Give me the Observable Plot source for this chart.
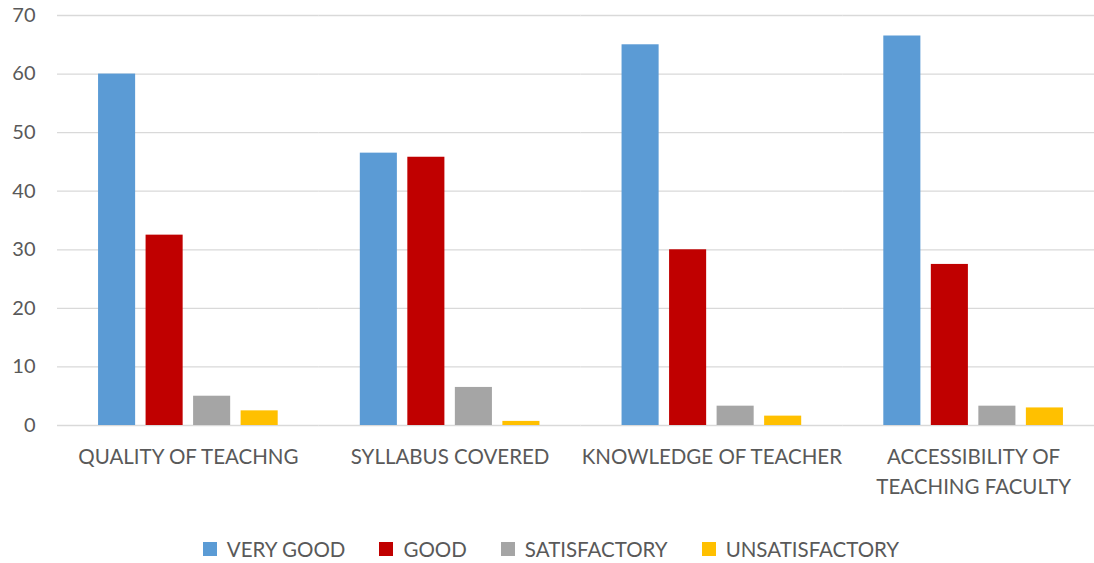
<!DOCTYPE html>
<html>
<head>
<meta charset="utf-8">
<script src="https://cdn.jsdelivr.net/npm/d3@7"></script>
<script src="https://cdn.jsdelivr.net/npm/@observablehq/plot@0.6"></script>
<style>
  html, body { margin: 0; padding: 0; background: #fff; }
  body { width: 1094px; height: 563px; overflow: hidden; font-family: Lato, "Open Sans", sans-serif; }
  #chart svg { display: block; }
  #legend { display: flex; justify-content: center; align-items: center; gap: 34px; height: 43px; margin-top: 13px; font-size: 20.5px; color: #595959; padding-left: 8px; }
  #legend .item { display: flex; align-items: center; gap: 10px; }
  #legend .sw { width: 14px; height: 14px; display: inline-block; }
</style>
</head>
<body>
<div id="chart"></div>
<div id="legend"></div>
<script>
const categories = ["QUALITY OF TEACHNG", "SYLLABUS COVERED", "KNOWLEDGE OF TEACHER", "ACCESSIBILITY OF TEACHING FACULTY"];
const categoryLabels = ["QUALITY OF TEACHNG", "SYLLABUS COVERED", "KNOWLEDGE OF TEACHER", "ACCESSIBILITY OF\nTEACHING FACULTY"];
const seriesNames = ["VERY GOOD", "GOOD", "SATISFACTORY", "UNSATISFACTORY"];
const seriesColors = ["#5B9BD5", "#C00000", "#A5A5A5", "#FFC000"];
const veryGood = [60, 46.5, 65, 66.5];
const good = [32.5, 45.8, 30, 27.5];
const satisfactory = [5, 6.5, 3.3, 3.3];
const unsatisfactory = [2.5, 0.7, 1.6, 3];
const yTicks = [0, 10, 20, 30, 40, 50, 60, 70];

const seriesValues = [veryGood, good, satisfactory, unsatisfactory];
const data = [];
categories.forEach((c, i) => {
  seriesNames.forEach((s, j) => data.push({category: c, series: s, value: seriesValues[j][i]}));
});

const chart = Plot.plot({
  width: 1094,
  height: 514,
  marginLeft: 57,
  marginRight: -10,
  marginTop: 15,
  marginBottom: 89,
  style: {fontFamily: "Lato, 'Open Sans', sans-serif", color: "#595959", background: "#fff", overflow: "hidden"},
  fx: {domain: categories, paddingInner: 0, paddingOuter: 0, round: false, label: null},
  x: {domain: seriesNames, padding: 0.22, round: false, insetLeft: 30.6, insetRight: 30.6, axis: null},
  y: {domain: [0, 70], label: null},
  color: {domain: seriesNames, range: seriesColors},
  marks: [
    Plot.gridY(yTicks, {stroke: "#d9d9d9", strokeOpacity: 1, strokeWidth: 1.3}),
    Plot.barY(data, {fx: "category", x: "series", y: "value", fill: "series"}),
    Plot.axisY(yTicks, {tickSize: 0, tickPadding: 22, fontSize: 20, fill: "#595959", label: null}),
    Plot.axisFx({anchor: "bottom", tickSize: 0, tickPadding: 17, fontSize: 20.5, fill: "#595959", lineHeight: 1.46, label: null,
      tickFormat: (d) => categoryLabels[categories.indexOf(d)]})
  ]
});
document.getElementById("chart").append(chart);

const legend = d3.select("#legend");
seriesNames.forEach((s, i) => {
  const item = legend.append("div").attr("class", "item");
  item.append("span").attr("class", "sw").style("background", seriesColors[i]);
  item.append("span").text(s);
});
</script>
</body>
</html>
